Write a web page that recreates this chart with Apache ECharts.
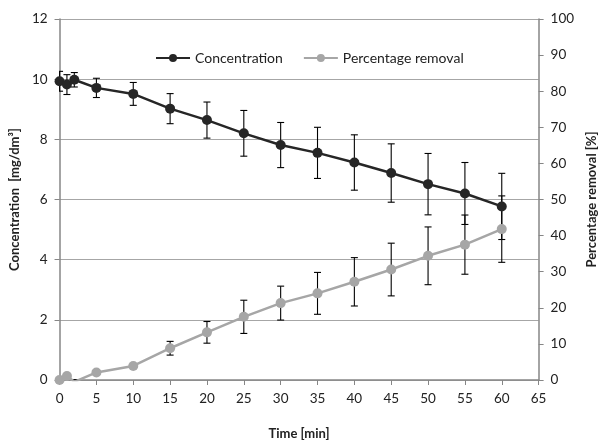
<!DOCTYPE html>
<html><head><meta charset="utf-8">
<script src="https://cdn.jsdelivr.net/npm/echarts@6/dist/echarts.min.js"></script>
<style>html,body{margin:0;padding:0;background:#fff}#c{width:606px;height:445px}</style>
</head><body><div id="c"></div>
<script>
const times = [0, 1, 2, 5, 10, 15, 20, 25, 30, 35, 40, 45, 50, 55, 60];
const concentration = [9.93, 9.82, 9.98, 9.71, 9.51, 9.02, 8.64, 8.20, 7.81, 7.55, 7.23, 6.88, 6.51, 6.20, 5.77];
const concentrationErr = [0.33, 0.33, 0.24, 0.32, 0.38, 0.5, 0.6, 0.76, 0.75, 0.85, 0.92, 0.97, 1.02, 1.03, 1.1];
const removal = [0, 1.1, -0.5, 2.1, 3.9, 8.8, 13.2, 17.5, 21.3, 24.0, 27.2, 30.6, 34.4, 37.5, 41.8];
const removalErr = [0, 0, 0.6, 0, 0, 1.9, 3.0, 4.6, 4.7, 5.8, 6.7, 7.3, 8.0, 8.2, 9.2];
const xTicks = {min: 0, max: 65, interval: 5};
const yLeftTicks = {min: 0, max: 12, interval: 2};
const yRightTicks = {min: 0, max: 100, interval: 10};

const FONT = 'Lato';
const chart = echarts.init(document.getElementById('c'));

function errSeries(vals, errs, yIdx) {
  const data = times.map((t, i) => [t, vals[i] - errs[i], vals[i] + errs[i], errs[i]]).filter(d => d[3] > 0);
  return {
    type: 'custom', yAxisIndex: yIdx, z: 1, silent: true,
    clip: true,
    renderItem: function (params, api) {
      const x = api.value(0);
      const lo = api.coord([x, api.value(1)]);
      const hi = api.coord([x, api.value(2)]);
      const w = 3.5;
      const st = {stroke: '#000', lineWidth: 1.1};
      return {type: 'group', children: [
        {type: 'line', shape: {x1: lo[0], y1: lo[1], x2: hi[0], y2: hi[1]}, style: st},
        {type: 'line', shape: {x1: lo[0] - w, y1: lo[1], x2: lo[0] + w, y2: lo[1]}, style: st},
        {type: 'line', shape: {x1: hi[0] - w, y1: hi[1], x2: hi[0] + w, y2: hi[1]}, style: st}
      ]};
    },
    encode: {x: 0, y: [1, 2]},
    data: data
  };
}

chart.setOption({
  animation: false,
  textStyle: {fontFamily: FONT},
  grid: {left: 57, right: 62, top: 19, bottom: 63, containLabel: false},
  legend: {
    top: 46, left: 150, itemGap: 20, itemWidth: 34, itemHeight: 10,
    textStyle: {fontFamily: FONT, fontSize: 14, color: '#222'},
    data: ['Concentration', 'Percentage removal']
  },
  xAxis: {
    type: 'value', min: xTicks.min, max: xTicks.max, interval: xTicks.interval,
    name: 'Time [min]', nameLocation: 'middle', nameGap: 47,
    nameTextStyle: {fontFamily: FONT, fontWeight: 'bold', fontSize: 13, color: '#222'},
    axisLine: {onZero: false, lineStyle: {color: '#868686', width: 1.5}},
    axisTick: {show: true, inside: false, length: 5, lineStyle: {color: '#868686'}},
    axisLabel: {fontFamily: FONT, fontSize: 13.5, color: '#222', margin: 12},
    splitLine: {show: false}
  },
  yAxis: [{
    type: 'value', min: yLeftTicks.min, max: yLeftTicks.max, interval: yLeftTicks.interval,
    name: 'Concentration  [mg/dm³]', nameLocation: 'middle', nameGap: 38,
    nameTextStyle: {fontFamily: FONT, fontWeight: 'bold', fontSize: 13, color: '#222'},
    axisLine: {show: true, lineStyle: {color: '#868686', width: 1.5}},
    axisTick: {show: true, length: 5, lineStyle: {color: '#868686'}},
    axisLabel: {fontFamily: FONT, fontSize: 13.5, color: '#222', margin: 12},
    splitLine: {show: true, lineStyle: {color: '#a6a6a6', width: 1}}
  }, {
    type: 'value', min: yRightTicks.min, max: yRightTicks.max, interval: yRightTicks.interval,
    position: 'right',
    name: 'Percentage removal [%]', nameLocation: 'middle', nameGap: 40, nameRotate: 90,
    nameTextStyle: {fontFamily: FONT, fontWeight: 'bold', fontSize: 13, color: '#222'},
    axisLine: {show: true, lineStyle: {color: '#868686', width: 1.5}},
    axisTick: {show: true, length: 5, lineStyle: {color: '#868686'}},
    axisLabel: {fontFamily: FONT, fontSize: 13.5, color: '#222', margin: 12},
    splitLine: {show: false}
  }],
  series: [
    errSeries(concentration, concentrationErr, 0),
    errSeries(removal, removalErr, 1),
    {
      name: 'Concentration', type: 'line', yAxisIndex: 0, z: 3,
      data: times.map((t, i) => [t, concentration[i]]),
      symbol: 'circle', symbolSize: 10,
      lineStyle: {color: '#262626', width: 2.5},
      itemStyle: {color: '#262626'}
    },
    {
      name: 'Percentage removal', type: 'line', yAxisIndex: 1, z: 3,
      data: times.map((t, i) => [t, removal[i]]),
      symbol: 'circle', symbolSize: 10,
      lineStyle: {color: '#a6a6a6', width: 2.5},
      itemStyle: {color: '#a6a6a6'}
    }
  ]
});
</script></body></html>
